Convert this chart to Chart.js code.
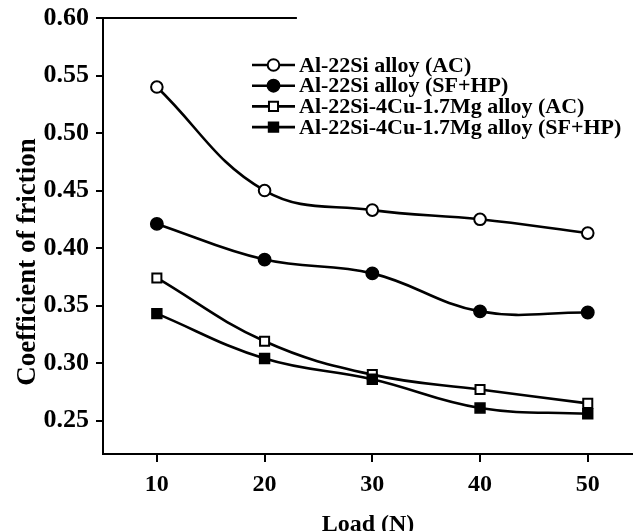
<!DOCTYPE html>
<html>
<head>
<meta charset="utf-8">
<script src="https://cdn.jsdelivr.net/npm/chart.js@4/dist/chart.umd.min.js"></script>
<style>
html,body{margin:0;padding:0;background:#fff;}
#wrap{width:633px;height:531px;position:relative;}
</style>
</head>
<body>
<div id="wrap"><canvas id="c" width="633" height="531"></canvas></div>
<script>
// ---- data ----
const loads = [10, 20, 30, 40, 50];
const al22SiAC = [0.540, 0.450, 0.433, 0.425, 0.413];
const al22SiSFHP = [0.421, 0.390, 0.378, 0.345, 0.344];
const al22Si4CuAC = [0.374, 0.319, 0.290, 0.277, 0.265];
const al22Si4CuSFHP = [0.343, 0.304, 0.286, 0.261, 0.256];
const seriesLabels = [
  'Al-22Si alloy (AC)',
  'Al-22Si alloy (SF+HP)',
  'Al-22Si-4Cu-1.7Mg alloy (AC)',
  'Al-22Si-4Cu-1.7Mg alloy (SF+HP)'
];
const xTicks = [10, 20, 30, 40, 50];
const yTicks = [0.25, 0.30, 0.35, 0.40, 0.45, 0.50, 0.55, 0.60];
const xTitle = 'Load (N)';
const yTitle = 'Coefficient of friction';

const FONT = "'Liberation Serif', 'Times New Roman', Times, serif";

function pts(arr) { return loads.map((x, i) => ({x: x, y: arr[i]})); }

const markerStyles = [
  {pointStyle: 'circle', fill: '#ffffff', radius: 5.8, bw: 2},
  {pointStyle: 'circle', fill: '#000000', radius: 6.2, bw: 1.5},
  {pointStyle: 'rect', fill: '#ffffff', radius: 6.4, bw: 2},
  {pointStyle: 'rect', fill: '#000000', radius: 7, bw: 1.5}
];
const seriesValues = [al22SiAC, al22SiSFHP, al22Si4CuAC, al22Si4CuSFHP];

const datasets = seriesValues.map((vals, i) => ({
  label: seriesLabels[i],
  data: pts(vals),
  borderColor: '#000',
  borderWidth: 2.6,
  tension: 0.4,
  fill: false,
  pointStyle: markerStyles[i].pointStyle,
  pointRadius: markerStyles[i].radius,
  pointHoverRadius: markerStyles[i].radius,
  pointBackgroundColor: markerStyles[i].fill,
  pointBorderColor: '#000',
  pointBorderWidth: markerStyles[i].bw,
  order: 4 - i
}));

const insideLegend = {
  id: 'insideLegend',
  afterDraw(chart) {
    const ctx = chart.ctx;
    const x0 = 252, y0 = 65, dy = 20.7, len = 43;
    ctx.save();
    chart.data.datasets.forEach((ds, i) => {
      const y = y0 + i * dy;
      ctx.strokeStyle = '#000';
      ctx.lineWidth = 2.6;
      ctx.beginPath();
      ctx.moveTo(x0, y);
      ctx.lineTo(x0 + len, y);
      ctx.stroke();
      ctx.fillStyle = ds.pointBackgroundColor;
      ctx.strokeStyle = '#000';
      ctx.lineWidth = ds.pointBorderWidth;
      Chart.helpers.drawPoint(ctx, {pointStyle: ds.pointStyle, radius: ds.pointRadius, borderWidth: ds.pointBorderWidth, rotation: 0}, x0 + len / 2, y);
      ctx.fillStyle = '#000';
      ctx.font = 'bold 22px ' + FONT;
      ctx.textBaseline = 'middle';
      ctx.textAlign = 'left';
      ctx.fillText(ds.label, x0 + len + 4, y + 1);
    });
    ctx.restore();
  }
};

const extras = {
  id: 'extras',
  afterDraw(chart) {
    const ctx = chart.ctx;
    const xs = chart.scales.x, ys = chart.scales.y;
    ctx.save();
    // partial top frame line
    const yTop = ys.getPixelForValue(ys.max);
    ctx.strokeStyle = '#000';
    ctx.lineWidth = 2;
    ctx.beginPath();
    ctx.moveTo(chart.chartArea.left, yTop);
    ctx.lineTo(xs.getPixelForValue(23), yTop);
    ctx.stroke();
    // y-axis title
    ctx.translate(28, 262);
    ctx.rotate(-Math.PI / 2);
    ctx.fillStyle = '#000';
    ctx.font = 'bold 27px ' + FONT;
    ctx.textAlign = 'center';
    ctx.textBaseline = 'middle';
    ctx.fillText(yTitle, 0, 0);
    ctx.restore();
  }
};

new Chart(document.getElementById('c'), {
  type: 'line',
  data: {datasets: datasets},
  options: {
    responsive: false,
    animation: false,
    layout: {autoPadding: false, padding: {top: 18, right: 0, bottom: 0, left: 0}},
    plugins: {legend: {display: false}, tooltip: {enabled: false}},
    scales: {
      x: {
        type: 'linear',
        min: 5,
        max: 54.2,
        afterBuildTicks: s => { s.ticks = xTicks.map(v => ({value: v})); },
        afterFit: s => { s.height = 77; s.paddingLeft = 0; s.paddingRight = 0; },
        grid: {display: true, drawOnChartArea: false, drawTicks: true, tickLength: 8, color: '#000', lineWidth: 2},
        border: {display: true, color: '#000', width: 2},
        ticks: {color: '#000', font: {family: FONT, size: 24, weight: 'bold'}, padding: 8, maxRotation: 0},
        title: {display: true, text: xTitle, color: '#000', font: {family: FONT, size: 24, weight: 'bold', lineHeight: 0.55}, padding: 0}
      },
      y: {
        type: 'linear',
        min: 0.221,
        max: 0.60,
        afterBuildTicks: s => { s.ticks = yTicks.map(v => ({value: v})); },
        afterFit: s => { s.width = 103; s.paddingTop = 0; s.paddingBottom = 0; },
        grid: {display: true, drawOnChartArea: false, drawTicks: true, tickLength: 7, color: '#000', lineWidth: 2},
        border: {display: true, color: '#000', width: 2},
        ticks: {color: '#000', font: {family: FONT, size: 26, weight: 'bold'}, padding: 7, callback: v => v.toFixed(2)}
      }
    }
  },
  plugins: [insideLegend, extras]
});
</script>
</body>
</html>
